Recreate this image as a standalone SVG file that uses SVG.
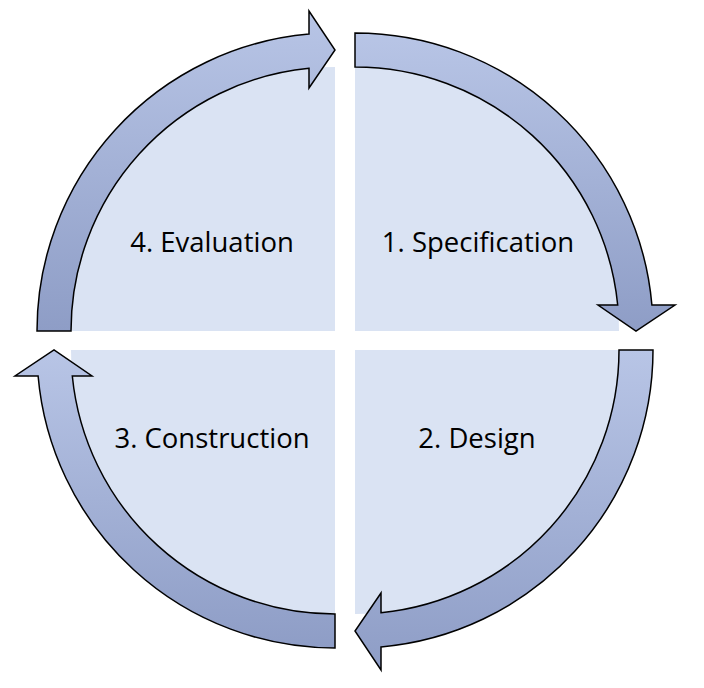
<svg xmlns="http://www.w3.org/2000/svg" width="704" height="688" viewBox="0 0 704 688">
<defs>
<linearGradient id="g1" x1="0" y1="0" x2="0" y2="1"><stop offset="0" stop-color="#b8c5e6"/><stop offset="1" stop-color="#8e9dc6"/></linearGradient>
<linearGradient id="g2" x1="0" y1="0" x2="1" y2="0"><stop offset="0" stop-color="#b8c5e6"/><stop offset="1" stop-color="#8e9dc6"/></linearGradient>
<linearGradient id="g3" x1="0" y1="1" x2="0" y2="0"><stop offset="0" stop-color="#b8c5e6"/><stop offset="1" stop-color="#8e9dc6"/></linearGradient>
<linearGradient id="g4" x1="1" y1="0" x2="0" y2="0"><stop offset="0" stop-color="#b8c5e6"/><stop offset="1" stop-color="#8e9dc6"/></linearGradient>
<style>
.q{fill:#dae3f3}
.a{stroke:#000;stroke-width:1.5;stroke-linejoin:miter}
.t{font-family:"Open Sans","Liberation Sans",sans-serif;font-size:27.5px;fill:#000;text-anchor:middle}
</style>
</defs>
<rect width="704" height="688" fill="#fff"/>
<g id="q1" transform="translate(355,331)">
<path class="q" d="M0,0 L0,-264 A264,264 0 0 1 264,0 Z"/>
<path class="a" fill="url(#g1)" d="M0,-298 A298,298 0 0 1 296.9,-26 L320,-26 L281,0 L243,-26 L262.7,-26 A264,264 0 0 0 0,-264 Z"/>
</g>
<g id="q2" transform="translate(355,350) rotate(90)">
<path class="q" d="M0,0 L0,-264 A264,264 0 0 1 264,0 Z"/>
<path class="a" fill="url(#g2)" d="M0,-298 A298,298 0 0 1 296.9,-26 L320,-26 L281,0 L243,-26 L262.7,-26 A264,264 0 0 0 0,-264 Z"/>
</g>
<g id="q3" transform="translate(335,350) rotate(180)">
<path class="q" d="M0,0 L0,-264 A264,264 0 0 1 264,0 Z"/>
<path class="a" fill="url(#g3)" d="M0,-298 A298,298 0 0 1 296.9,-26 L320,-26 L281,0 L243,-26 L262.7,-26 A264,264 0 0 0 0,-264 Z"/>
</g>
<g id="q4" transform="translate(335,331) rotate(270)">
<path class="q" d="M0,0 L0,-264 A264,264 0 0 1 264,0 Z"/>
<path class="a" fill="url(#g4)" d="M0,-298 A298,298 0 0 1 296.9,-26 L320,-26 L281,0 L243,-26 L262.7,-26 A264,264 0 0 0 0,-264 Z"/>
</g>
<g id="labels">
<text class="t" x="478" y="252">1. Specification</text>
<text class="t" x="477" y="448">2. Design</text>
<text class="t" x="212" y="448">3. Construction</text>
<text class="t" x="212" y="252">4. Evaluation</text>
</g>
</svg>
